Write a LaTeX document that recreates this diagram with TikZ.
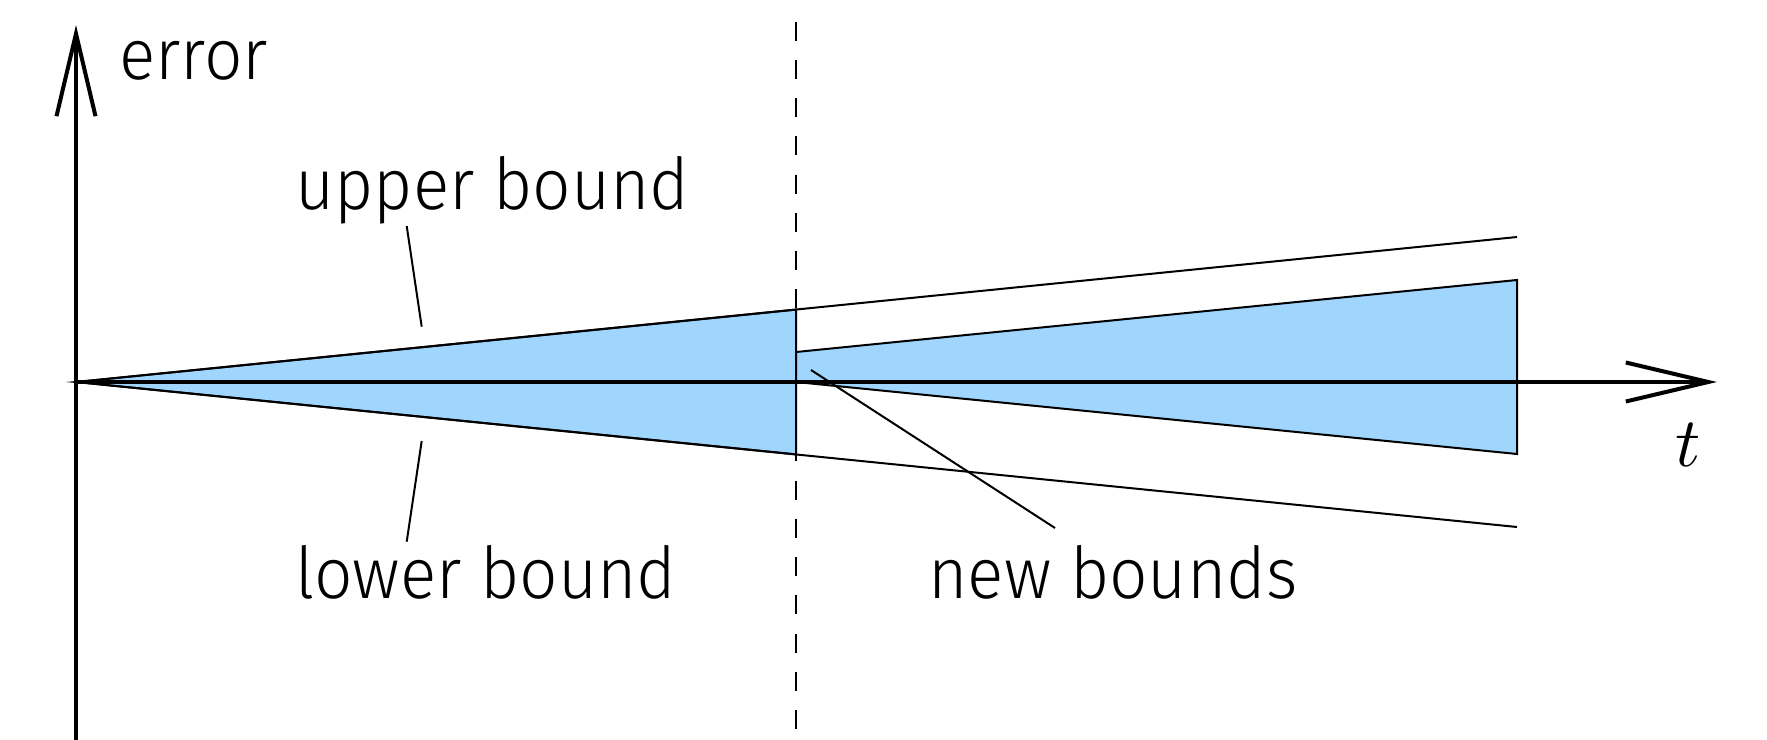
\documentclass[tikz,border=0pt]{standalone}
\usepackage{fontspec}
\setmainfont{Fira Sans Light}[FakeStretch=0.945]
\usetikzlibrary{arrows.meta}
\definecolor{conefill}{RGB}{160,213,253}
\tikzset{
  axisline/.style={line width=1.6pt, -{Straight Barb[length=33pt,width=15.6pt]}},
  boundline/.style={line width=0.8pt},
  cone/.style={fill=conefill, draw=black, line width=0.8pt, line join=miter},
  pointer/.style={line width=0.8pt},
  lbl/.style={inner sep=0pt, anchor=base west, font=\fontsize{28.6}{34}\selectfont},
  divider/.style={line width=0.8pt, dash pattern=on 7.6pt off 7.7pt}
}
\begin{document}
\begin{tikzpicture}[x=0.4pt,y=-0.4pt]
\useasboundingbox (0,0) rectangle (1767,740);
% named points
\coordinate (O) at (76,382);
\coordinate (ua) at (796,309.6);
\coordinate (la) at (796,454.4);
\coordinate (ue) at (1517,237);
\coordinate (le) at (1517,527);
\coordinate (na) at (796,382);
\coordinate (nb) at (796,352);
\coordinate (nc) at (1517,280);
\coordinate (nd) at (1517,454);
% cones
\filldraw[cone] (O) -- (ua) -- (la) -- cycle;
\filldraw[cone] (na) -- (nb) -- (nc) -- (nd) -- cycle;
% bound lines
\draw[boundline] (O) -- (ue);
\draw[boundline] (O) -- (le);
% dashed divider
\coordinate (dtop) at (796,21.7);
\coordinate (dbot) at (796,740);
\draw[divider] (dtop) -- (dbot);
% axes
\coordinate (ybot) at (76,740);
\coordinate (ytip) at (76,25);
\coordinate (xtip) at (1717,382);
\draw[axisline] (ybot) -- (ytip);
\draw[axisline] (O) -- (xtip);
% labels
\node[lbl] (err) at (119,80) {error};
\node[lbl] (ub) at (295,209) {upper bound};
\node[lbl] (lb) at (295,598) {lower bound};
\node[lbl] (nbl) at (928,598) {new bounds};
\node[inner sep=0pt] (tl) at (1688,445) {\scalebox{2.8}{$t$}};
% pointers
\coordinate (up1) at (406.7,226);
\coordinate (up2) at (421.7,326.7);
\coordinate (lp1) at (421.7,441);
\coordinate (lp2) at (406.7,541.7);
\coordinate (np1) at (811,370);
\coordinate (np2) at (1055,528);
\draw[pointer] (up1) -- (up2);
\draw[pointer] (lp1) -- (lp2);
\draw[pointer] (np1) -- (np2);
\end{tikzpicture}
\end{document}
